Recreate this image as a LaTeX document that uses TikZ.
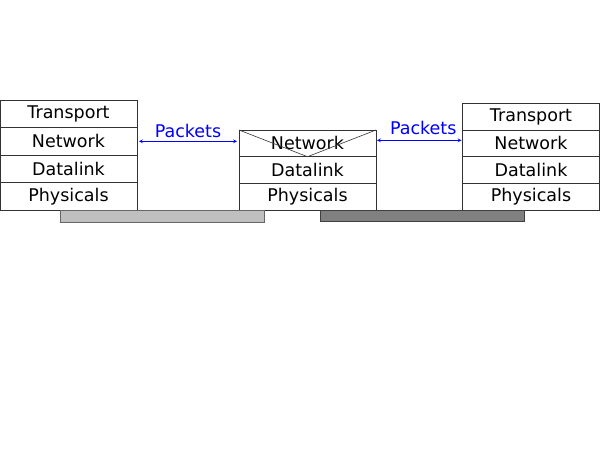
\documentclass[tikz,border=0pt]{standalone}
\usepackage{fontspec}
\setmainfont{DejaVu Sans}
\usepackage{xcolor}
\usepackage{tikz}
\usetikzlibrary{shapes.geometric, arrows, positioning}

\begin{document}
\begin{tikzpicture}[
    x=1pt, y=-1pt,
    layer/.style={rectangle, draw=black!80, line width=0.8pt, minimum width=137pt, inner sep=0pt, outer sep=0pt, font=\fontsize{17.5}{20}\selectfont},
    arrow/.style={<->, >=stealth, blue, line width=0.7pt},
    tag/.style={text=blue, font=\fontsize{17.5}{20}\selectfont, inner sep=1pt},
    bar/.style={draw=black!60, line width=0.8pt}
]
    \useasboundingbox (0,0) rectangle (600,464);

    % left host
    \node[layer, minimum height=27.5pt, anchor=north west] (lTransport) at (0,100) {Transport};
    \node[layer, minimum height=27.5pt, below=0pt of lTransport] (lNetwork) {Network};
    \node[layer, minimum height=27.5pt, below=0pt of lNetwork] (lDatalink) {Datalink};
    \node[layer, minimum height=27.5pt, below=0pt of lDatalink] (lPhysicals) {Physicals};

    % router
    \node[layer, minimum height=26.7pt, anchor=north west] (mNetwork) at (239,130) {Network};
    \node[layer, minimum height=26.7pt, below=0pt of mNetwork] (mDatalink) {Datalink};
    \node[layer, minimum height=26.7pt, below=0pt of mDatalink] (mPhysicals) {Physicals};
    \draw[black!80, line width=0.6pt] (mNetwork.north west) -- (mNetwork.south) -- (mNetwork.north east);

    % right host
    \node[layer, minimum height=26.6pt, anchor=north west] (rTransport) at (462.5,103.5) {Transport};
    \node[layer, minimum height=26.6pt, below=0pt of rTransport] (rNetwork) {Network};
    \node[layer, minimum height=26.6pt, below=0pt of rNetwork] (rDatalink) {Datalink};
    \node[layer, minimum height=26.6pt, below=0pt of rDatalink] (rPhysicals) {Physicals};

    % links
    \draw[bar, fill=black!25] (60,210) rectangle (264,222);
    \draw[bar, draw=black!75, fill=black!50] (320.5,210) rectangle (524.5,221);

    % packets
    \draw[arrow, shorten <=2pt, shorten >=2pt] (lNetwork.east) -- (lNetwork.east -| mNetwork.west)
        node[tag, midway, above=2pt] (lPackets) {Packets};
    \draw[arrow, shorten <=1pt, shorten >=1pt] ([yshift=3pt]mNetwork.east) -- ([yshift=3pt]mNetwork.east -| rNetwork.west)
        node[tag, midway, above=4pt, xshift=4pt] (rPackets) {Packets};
\end{tikzpicture}
\end{document}
